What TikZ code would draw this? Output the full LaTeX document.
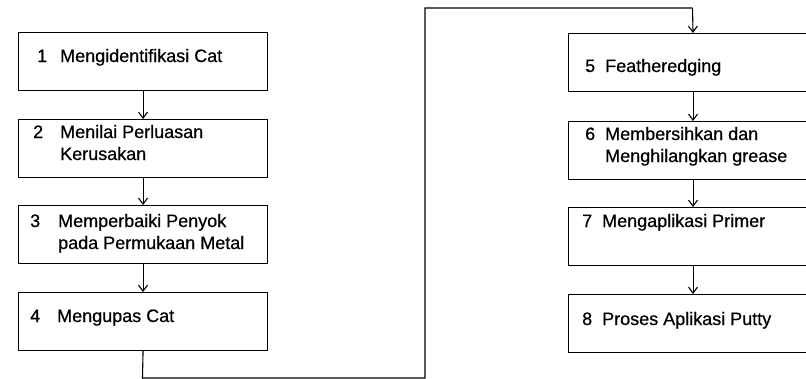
\documentclass[tikz,border=0pt]{standalone}
\usepackage{fontspec}
\setmainfont{Liberation Sans}[FakeBold=0.6]
\usetikzlibrary{arrows.meta}
\newcommand{\twolines}[2]{\vtop{\baselineskip=22pt\hbox{#1}\hbox{#2}}}
\tikzset{
  stepbox/.style={draw, line width=1.1pt, minimum width=249pt, minimum height=58pt, anchor=north west, inner sep=0pt},
  steptext/.style={anchor=base west, inner sep=0pt, font=\fontsize{18}{22}\selectfont},
  flow/.style={line width=1.1pt, -{Straight Barb[length=6pt,width=9pt]}}
}
\begin{document}
\begin{tikzpicture}[x=1pt,y=-1pt]
\useasboundingbox (0,0) rectangle (806,378);
\clip (0,0) rectangle (806,378);
% left column
\node[stepbox] (s1) at (18,32) {};
\node[stepbox] (s2) at (18,119) {};
\node[stepbox] (s3) at (18,205) {};
\node[stepbox] (s4) at (18,292) {};
\node[steptext] (n1) at (37,62) {1};
\node[steptext] (t1) at (60,62) {Mengidentifikasi Cat};
\node[steptext] (n2) at (33,138) {2};
\node[steptext] (t2) at (60,138) {\twolines{Menilai Perluasan}{Kerusakan}};
\node[steptext] (n3) at (30,227) {3};
\node[steptext] (t3) at (58,227) {\twolines{Memperbaiki Penyok}{pada Permukaan Metal}};
\node[steptext] (n4) at (30,322) {4};
\node[steptext] (t4) at (57,322) {Mengupas Cat};
% right column
\node[stepbox] (s5) at (568,33) {};
\node[stepbox] (s6) at (568,121) {};
\node[stepbox] (s7) at (568,207) {};
\node[stepbox] (s8) at (568,294) {};
\node[steptext] (n5) at (585,72) {5};
\node[steptext] (t5) at (605,72) {Featheredging};
\node[steptext] (n6) at (585,140) {6};
\node[steptext] (t6) at (605,140) {\twolines{Membersihkan dan}{Menghilangkan grease}};
\node[steptext] (n7) at (582,227) {7};
\node[steptext] (t7) at (602,227) {Mengaplikasi Primer};
\node[steptext] (n8) at (582,325) {8};
\node[steptext] (t8) at (602,325) {Proses Aplikasi Putty};
% connectors
\coordinate (c1) at (142.5,378);
\coordinate (c2) at (425,378);
\coordinate (c3) at (425,8);
\coordinate (c4) at (692.5,8);
\draw[flow] (s1.south) -- (s2.north);
\draw[flow] (s2.south) -- (s3.north);
\draw[flow] (s3.south) -- (s4.north);
\draw[line width=1.1pt] (s4.south) -- (c1) -- (c2) -- (c3) -- (c4);
\draw[flow] (c4) -- (s5.north);
\draw[flow] (s5.south) -- (s6.north);
\draw[flow] (s6.south) -- (s7.north);
\draw[flow] (s7.south) -- (s8.north);
\end{tikzpicture}
\end{document}
